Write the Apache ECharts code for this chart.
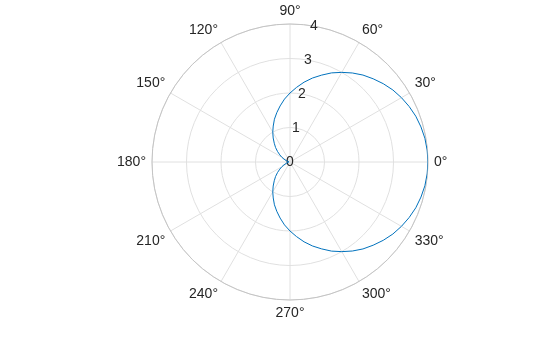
<!DOCTYPE html>
<html>
<head>
<meta charset="utf-8">
<script src="https://cdn.jsdelivr.net/npm/echarts@6/dist/echarts.min.js"></script>
<style>html,body{margin:0;padding:0;background:#fff;}#c{width:560px;height:337px;}</style>
</head>
<body>
<div id="c"></div>
<script>
// angle (degrees) and radius
var thetaDeg = [0,5,10,15,20,25,30,35,40,45,50,55,60,65,70,75,80,85,90,95,100,105,110,115,120,125,130,135,140,145,150,155,160,165,170,175,180,
  185,190,195,200,205,210,215,220,225,230,235,240,245,250,255,260,265,270,275,280,285,290,295,300,305,310,315,320,325,330,335,340,345,350,355,360];
var rho = [4,3.99,3.97,3.93,3.88,3.81,3.73,3.64,3.53,3.41,3.29,3.15,3,2.85,2.68,2.52,2.35,2.17,2,1.83,1.65,1.48,1.32,1.15,1,0.85,0.71,0.59,0.47,0.36,0.27,0.19,0.12,0.07,0.03,0.01,0,
  0.01,0.03,0.07,0.12,0.19,0.27,0.36,0.47,0.59,0.71,0.85,1,1.15,1.32,1.48,1.65,1.83,2,2.17,2.35,2.52,2.68,2.85,3,3.15,3.29,3.41,3.53,3.64,3.73,3.81,3.88,3.93,3.97,3.99,4];
var angleTicks = [0,30,60,90,120,150,180,210,240,270,300,330];
var radiusTicks = [0,1,2,3,4];

var font = 'Liberation Sans, Arial, sans-serif';
var txt = '#262626';
var chart = echarts.init(document.getElementById('c'), null, {renderer:'canvas'});
var data = thetaDeg.map(function(t,i){return [rho[i], t];});
chart.setOption({
  animation:false,
  polar:[
    {center:[290,162], radius:138},
    {center:[290,162], radius:138}
  ],
  angleAxis:[
    {polarIndex:0, type:'value', min:0, max:360, interval:30, startAngle:0, clockwise:false,
     axisLine:{show:true, lineStyle:{color:'#c4c4c4', width:1}},
     axisTick:{show:false},
     splitLine:{show:true, lineStyle:{color:'#e0e0e0', width:1}},
     axisLabel:{margin:6, color:txt, fontFamily:font, fontSize:14,
       formatter:function(v){return angleTicks.indexOf(v)>=0?(v+'\u00b0'):'';}}
    },
    {polarIndex:1, type:'value', min:0, max:360, startAngle:80, clockwise:false,
     axisLine:{show:false}, axisTick:{show:false}, splitLine:{show:false}, axisLabel:{show:false}}
  ],
  radiusAxis:[
    {polarIndex:0, type:'value', min:0, max:4, interval:1,
     axisLine:{show:false}, axisTick:{show:false}, axisLabel:{show:false},
     splitLine:{show:true, lineStyle:{color:'#e0e0e0', width:1}}},
    {polarIndex:1, type:'value', min:0, max:4, interval:1,
     axisLine:{show:false}, axisTick:{show:false}, splitLine:{show:false},
     axisLabel:{show:true, margin:0, color:txt, fontFamily:font, fontSize:14,
       align:'center', verticalAlign:'middle',
       formatter:function(v){return radiusTicks.indexOf(v)>=0?String(v):'';}}}
  ],
  series:[{
    type:'line', coordinateSystem:'polar', polarIndex:0,
    data:data, smooth:false, showSymbol:false,
    lineStyle:{color:'#0072BD', width:1}
  }]
});
</script>
</body>
</html>
